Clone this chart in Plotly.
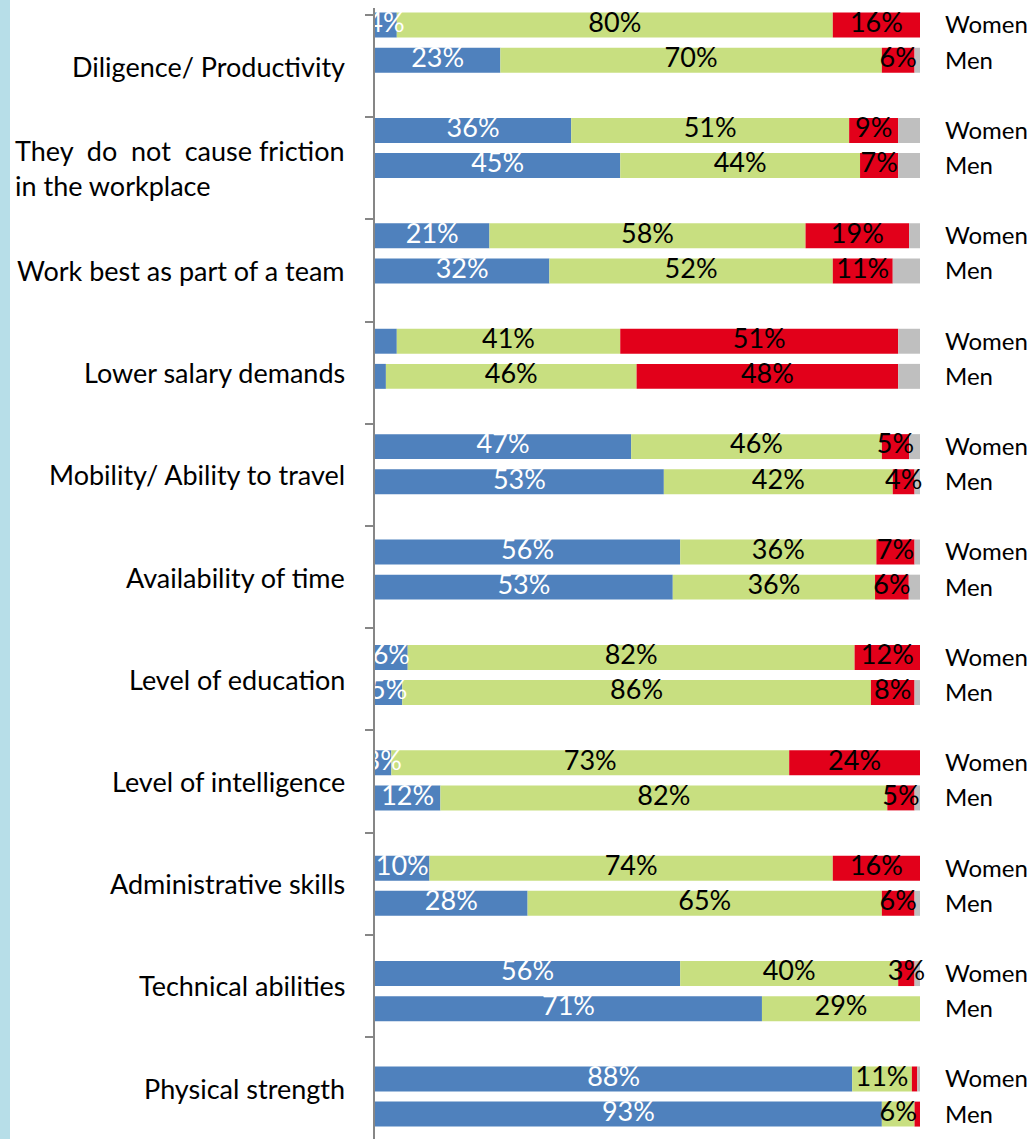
import plotly.graph_objects as go

# ---------------- data ----------------
categories = [
    "Diligence/ Productivity",
    "They \u00a0do \u00a0not \u00a0cause friction<br>in the workplace",
    "Work best as part of a team",
    "Lower salary demands",
    "Mobility/ Ability to travel",
    "Availability of time",
    "Level of education",
    "Level of intelligence",
    "Administrative skills",
    "Technical abilities",
    "Physical strength",
]
groups = ["Women", "Men"]

blue_women = [4, 36, 21, 4, 47, 56, 6, 3, 10, 56, 88]
blue_men = [23, 45, 32, 2, 53, 53, 5, 12, 28, 71, 93]
green_women = [80, 51, 58, 41, 46, 36, 82, 73, 74, 40, 11]
green_men = [70, 44, 52, 46, 42, 36, 86, 82, 65, 29, 6]
red_women = [16, 9, 19, 51, 5, 7, 12, 24, 16, 3, 1]
red_men = [6, 7, 11, 48, 4, 6, 8, 5, 6, 0, 1]
gray_women = [0, 4, 2, 4, 2, 1, 0, 0, 0, 1, 0.5]
gray_men = [1, 4, 5, 4, 1, 2, 1, 1, 1, 0, 0]

# labels that were removed in the original chart: (series, group, category index)
hidden_labels = [("blue", "Women", 3)]

# ---------------- styling ----------------
FONT = "Lato"
colors = {"blue": "#4F81BD", "green": "#C8DF80", "red": "#E2001A", "gray": "#BFBFBF"}
text_colors = {"blue": "white", "green": "black", "red": "black", "gray": "black"}

series = {
    "blue": (blue_women, blue_men),
    "green": (green_women, green_men),
    "red": (red_women, red_men),
    "gray": (gray_women, gray_men),
}

# bar positions: women / men / blank slot per category
ypos, glabels = [], []
for i in range(len(categories)):
    ypos += [3 * i, 3 * i + 1]
    glabels += groups

def interleave(w, m):
    out = []
    for a, b in zip(w, m):
        out += [a, b]
    return out

raw = {k: interleave(*v) for k, v in series.items()}
n = len(ypos)
totals = [sum(raw[k][j] for k in raw) for j in range(n)]
norm = {k: [raw[k][j] * 100.0 / totals[j] for j in range(n)] for k in raw}

fig = go.Figure()
base = [0.0] * n
text_traces = []
for k in ["blue", "green", "red", "gray"]:
    fig.add_trace(go.Bar(
        x=norm[k], y=ypos, base=base[:], orientation="h",
        marker=dict(color=colors[k], line=dict(width=0)),
        width=0.71, name=k, showlegend=False, hoverinfo="skip",
    ))
    mids, labs = [], []
    for j in range(n):
        mids.append(base[j] + norm[k][j] / 2)
        cat_i, grp = j // 2, glabels[j]
        v = raw[k][j]
        show = k != "gray" and v >= 3 and (k, grp, cat_i) not in hidden_labels
        labs.append(f"{v:g}%" if show else "")
        base[j] += norm[k][j]
    text_traces.append(go.Scatter(
        x=mids, y=ypos, mode="text", text=labs, textposition="middle center",
        textfont=dict(family=FONT, size=27, color=text_colors[k]),
        showlegend=False, hoverinfo="skip", cliponaxis=True,
    ))
for t in text_traces:
    fig.add_trace(t)

# invisible trace to anchor the category (left) axis
fig.add_trace(go.Scatter(x=[None], y=[None], yaxis="y2", showlegend=False, hoverinfo="skip"))

W, H = 1033, 1139
left, right_edge = 375, 930
plot_w = right_edge - left
top_px = 7.5
slot_px = 35.13
cat_px = 102.2
cat_top = 15

x_max = 100 * plot_w / 545.0
y_bottom = -0.5 + (H - top_px) / slot_px

fig.update_layout(
    width=W, height=H,
    margin=dict(l=left, r=W - right_edge, t=0, b=0, pad=0),
    paper_bgcolor="white", plot_bgcolor="white",
    barmode="overlay",
    font=dict(family=FONT, color="black"),
    xaxis=dict(range=[0, x_max], visible=False, fixedrange=True),
    yaxis=dict(
        domain=[0, (H - top_px) / H],
        range=[y_bottom, -0.5], side="right",
        tickmode="array", tickvals=ypos, ticktext=glabels,
        ticks="", ticklabelstandoff=14,
        tickfont=dict(family=FONT, size=24, color="black"),
        showgrid=False, zeroline=False, showline=False,
    ),
    yaxis2=dict(
        overlaying="y", side="left", anchor="x",
        range=[(H - cat_top) / cat_px, (top_px - cat_top) / cat_px],
        tickmode="array", tickvals=list(range(len(categories) + 1)),
        ticks="outside", ticklen=8, tickwidth=2, tickcolor="#868686",
        showticklabels=False, showgrid=False, zeroline=False,
        showline=True, linecolor="#868686", linewidth=2,
    ),
    shapes=[dict(
        type="rect", xref="paper", yref="paper",
        x0=-left / plot_w, x1=(10 - left) / plot_w, y0=0, y1=1,
        fillcolor="#B7DEE8", line=dict(width=0), layer="below",
    )],
)

for i, c in enumerate(categories):
    fig.add_annotation(
        x=(347 - left) / plot_w, xref="paper", xanchor="right",
        y=i + 0.5, yref="y2", yanchor="middle",
        text=c, showarrow=False, align="left",
        font=dict(family=FONT, size=27, color="black"),
    )

fig.write_html(
    "out.html",
    config={"displayModeBar": False},
    post_script="document.body.style.margin='0';document.body.style.overflow='hidden';",
)
